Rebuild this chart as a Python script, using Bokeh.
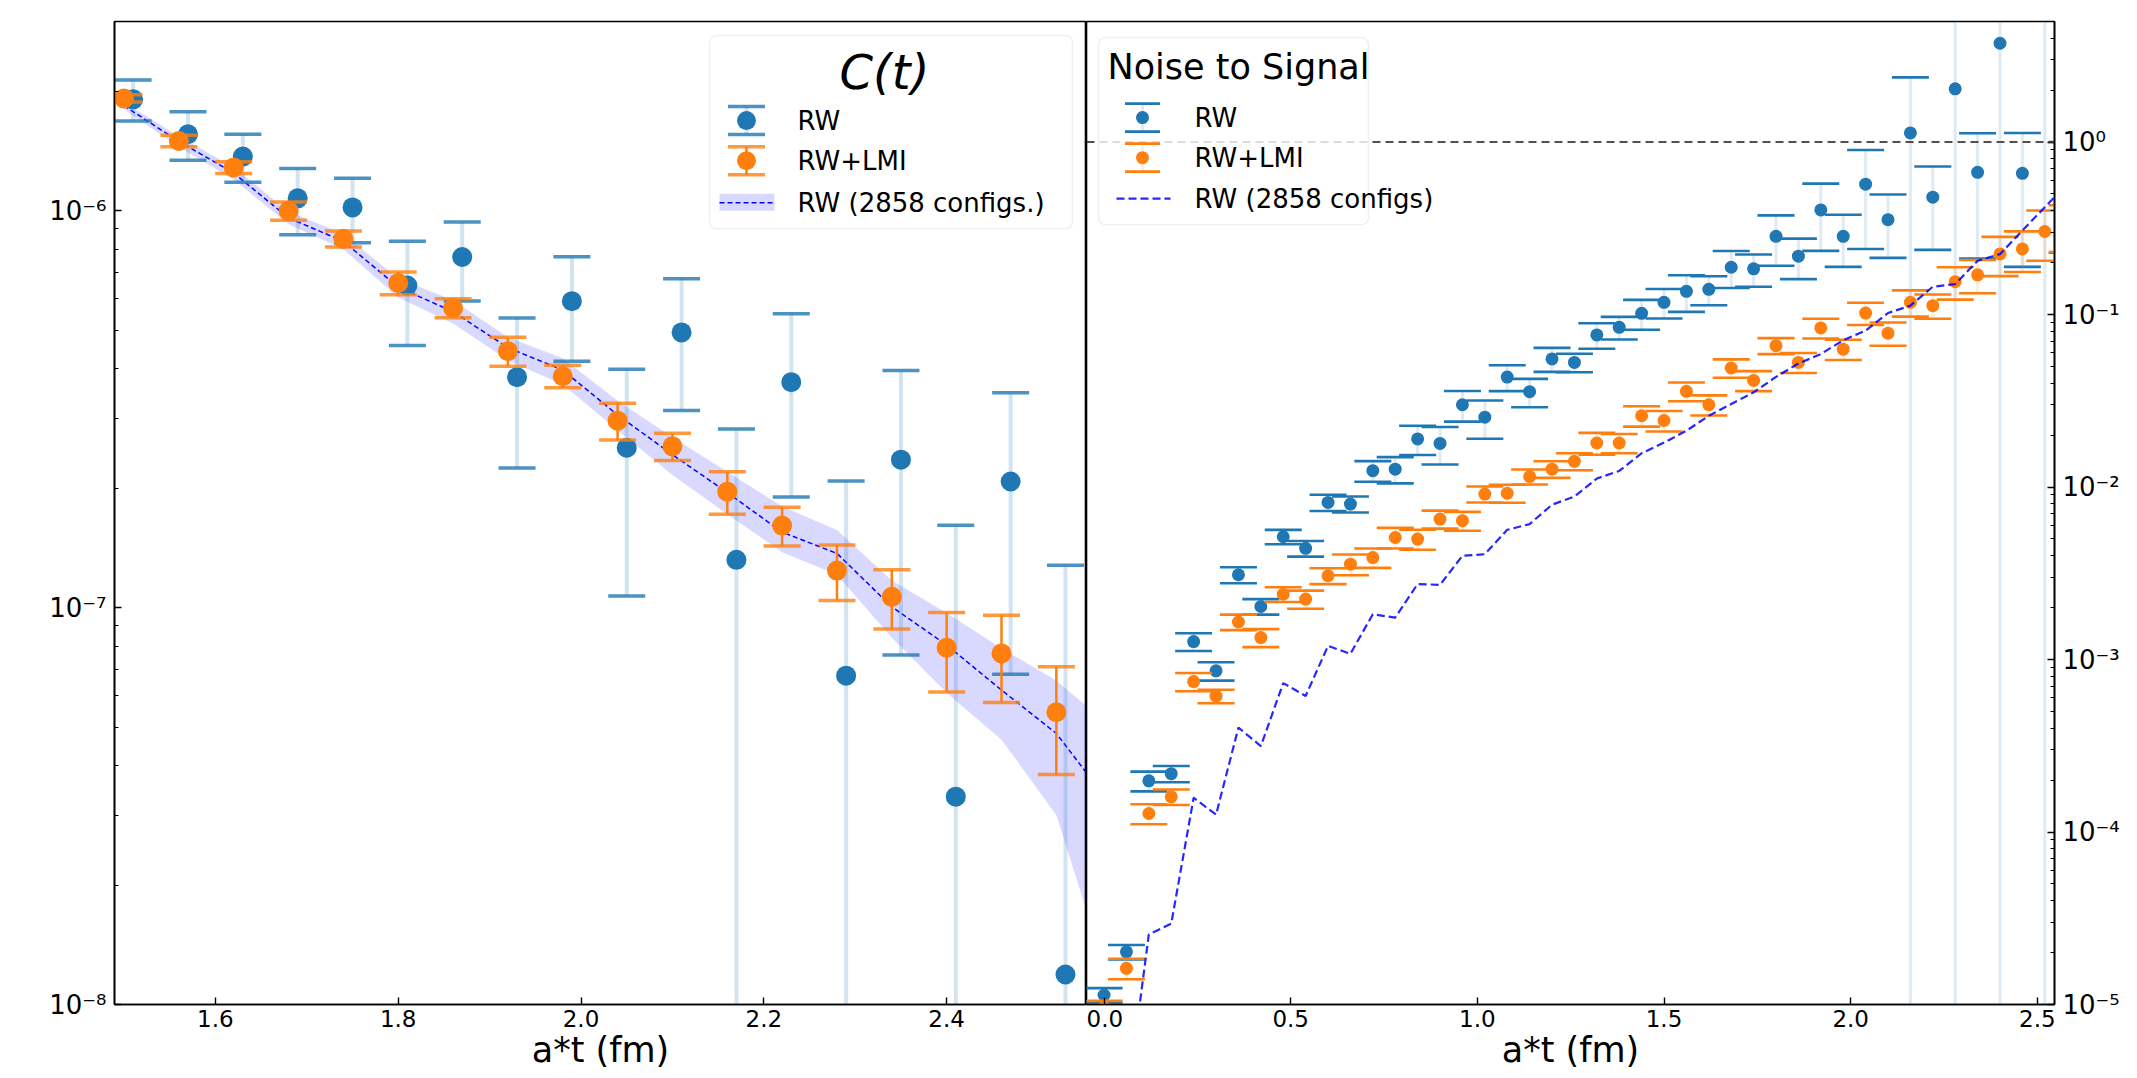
import numpy as np
from bokeh.plotting import figure
from bokeh.layouts import row
from bokeh.models import (Range1d, FixedTicker, CustomJSTickFormatter, PrintfTickFormatter,
                          BoxAnnotation, Label, Span)
from bokeh.embed import file_html
from bokeh.resources import INLINE

# ---------------- data: left panel, C(t) ----------------
t_left = [1.50, 1.56, 1.62, 1.68, 1.74, 1.80, 1.86, 1.92, 1.98, 2.04, 2.10, 2.16, 2.22, 2.28,
          2.34, 2.40, 2.46, 2.52]
c_rw = [1.91e-6, 1.56e-6, 1.37e-6, 1.075e-6, 1.02e-6, 6.48e-7, 7.65e-7, 3.81e-7, 5.92e-7,
        2.53e-7, 4.94e-7, 1.32e-7, 3.70e-7, 6.74e-8, 2.36e-7, 3.34e-8, 2.08e-7, 1.19e-8]
c_rw_err = [2.25e-7, 2.18e-7, 1.9e-7, 2.04e-7, 1.89e-7, 1.9e-7, 1.72e-7, 1.56e-7, 1.74e-7,
            1.46e-7, 1.8e-7, 1.5e-7, 1.8e-7, 1.41e-7, 1.6e-7, 1.28e-7, 1.4e-7, 1.16e-7]
c_lmi = [1.92e-6, 1.50e-6, 1.286e-6, 1.0e-6, 8.5e-7, 6.58e-7, 5.69e-7, 4.43e-7, 3.83e-7,
         2.96e-7, 2.55e-7, 1.96e-7, 1.61e-7, 1.24e-7, 1.065e-7, 7.93e-8, 7.67e-8, 5.45e-8]
c_lmi_err = [4e-8, 5e-8, 4.4e-8, 5.3e-8, 3.9e-8, 4.35e-8, 3.1e-8, 3.7e-8, 2.5e-8,
             3.15e-8, 2.0e-8, 2.4e-8, 1.8e-8, 1.98e-8, 1.81e-8, 1.8e-8, 1.9e-8, 1.65e-8]
t_band = [1.50, 1.56, 1.62, 1.68, 1.74, 1.80, 1.86, 1.92, 1.98, 2.04, 2.10, 2.16, 2.22, 2.28,
          2.34, 2.40, 2.46, 2.52, 2.58]
c_2858 = [1.84e-6, 1.496e-6, 1.245e-6, 9.6e-7, 8.38e-7, 6.42e-7, 5.57e-7, 4.52e-7, 3.97e-7,
          3.06e-7, 2.43e-7, 1.95e-7, 1.55e-7, 1.37e-7, 1.005e-7, 8.05e-8, 6.2e-8, 4.82e-8, 3.18e-8]
c_2858_lo = [1.80e-6, 1.45e-6, 1.20e-6, 9.25e-7, 8.0e-7, 6.05e-7, 5.2e-7, 4.2e-7, 3.65e-7,
             2.8e-7, 2.16e-7, 1.72e-7, 1.38e-7, 1.21e-7, 8.4e-8, 6.1e-8, 4.65e-8, 3.0e-8, 1.1e-8]
c_2858_hi = [1.88e-6, 1.54e-6, 1.29e-6, 9.95e-7, 8.75e-7, 6.75e-7, 5.95e-7, 4.8e-7, 4.25e-7,
             3.32e-7, 2.69e-7, 2.2e-7, 1.80e-7, 1.57e-7, 1.17e-7, 9.7e-8, 7.9e-8, 6.55e-8, 5.0e-8]

# ---------------- data: right panel, noise to signal ----------------
t_right = [0.00, 0.06, 0.12, 0.18, 0.24, 0.30, 0.36, 0.42, 0.48, 0.54, 0.60, 0.66, 0.72, 0.78,
           0.84, 0.90, 0.96, 1.02, 1.08, 1.14, 1.20, 1.26, 1.32, 1.38, 1.44, 1.50, 1.56, 1.62,
           1.68, 1.74, 1.80, 1.86, 1.92, 1.98, 2.04, 2.10, 2.16, 2.22, 2.28, 2.34, 2.40, 2.46,
           2.52, 2.58]
ns_rw = [1.135e-5, 2.02e-5, 1.98e-4, 2.18e-4, 1.27e-3, 8.6e-4, 3.1e-3, 2.03e-3, 5.15e-3, 4.41e-3,
         8.14e-3, 7.97e-3, 1.244e-2, 1.27e-2, 1.9e-2, 1.79e-2, 3.0e-2, 2.54e-2, 4.34e-2, 3.57e-2,
         5.53e-2, 5.28e-2, 7.62e-2, 8.43e-2, 0.1017, 0.1177, 0.1363, 0.140, 0.188, 0.184,
         0.284, 0.218, 0.404, 0.284, 0.57, 0.355, 1.13, 0.479, 2.035, 0.668,
         3.74, 0.659, 7.0, 0.614]
ns_rw_err = [1.1e-6, 1.95e-6, 2.6e-5, 2.35e-5, 1.5e-4, 1.05e-4, 3.3e-4, 2.1e-4, 4.95e-4, 4.6e-4,
             8.75e-4, 8.5e-4, 1.7e-3, 2.2e-3, 3.65e-3, 4.4e-3, 6.05e-3, 6.35e-3, 7.4e-3, 6.7e-3,
             8.75e-3, 6.5e-3, 1.29e-2, 1.26e-2, 2.0e-2, 2.29e-2, 3.27e-2, 2.67e-2, 4.56e-2, 3.9e-2,
             9.2e-2, 5.75e-2, 0.17, 0.095, 0.33, 0.142, 1.24, 0.242, 3.5, 0.457,
             4.5, 0.47, 9.0, 0.386]
ns_lmi = [9.6e-6, 1.62e-5, 1.28e-4, 1.6e-4, 7.45e-4, 6.13e-4, 1.65e-3, 1.34e-3, 2.39e-3, 2.24e-3,
          3.06e-3, 3.57e-3, 3.9e-3, 5.1e-3, 4.99e-3, 6.52e-3, 6.38e-3, 9.1e-3, 9.2e-3, 1.15e-2,
          1.27e-2, 1.41e-2, 1.8e-2, 1.8e-2, 2.59e-2, 2.43e-2, 3.59e-2, 3.0e-2, 4.9e-2, 4.15e-2,
          6.6e-2, 5.28e-2, 8.36e-2, 6.3e-2, 0.102, 0.078, 0.1177, 0.1126, 0.155, 0.170,
          0.2246, 0.240, 0.303, 0.33]
ns_lmi_err = [0.9e-6, 2.2e-6, 1.7e-5, 1.65e-5, 9e-5, 5.5e-5, 1.7e-4, 1.6e-4, 2.35e-4, 2.7e-4,
              3.25e-4, 4.9e-4, 5e-4, 7e-4, 6.6e-4, 7.8e-4, 8e-4, 9.7e-4, 1.1e-3, 1.15e-3,
              1.4e-3, 1.6e-3, 2.6e-3, 2.3e-3, 3.5e-3, 3.3e-3, 4.5e-3, 4e-3, 6e-3, 5.5e-3,
              7e-3, 7e-3, 1.1e-2, 8.5e-3, 0.015, 0.012, 0.0204, 0.018, 0.033, 0.037,
              0.0575, 0.0635, 0.098, 0.1]
ns_2858 = [1.0e-6, 2.6e-6, 2.55e-5, 2.94e-5, 1.58e-4, 1.26e-4, 4.03e-4, 3.15e-4, 7.3e-4, 6.15e-4,
           1.2e-3, 1.08e-3, 1.83e-3, 1.75e-3, 2.74e-3, 2.71e-3, 3.99e-3, 4.08e-3, 5.65e-3, 6.1e-3,
           7.9e-3, 8.8e-3, 1.12e-2, 1.24e-2, 1.57e-2, 1.81e-2, 2.12e-2, 2.59e-2, 3.03e-2, 3.54e-2,
           4.35e-2, 5.2e-2, 5.9e-2, 7.1e-2, 8.07e-2, 0.102, 0.1127, 0.145, 0.150, 0.205,
           0.224, 0.307, 0.419, 0.57]
ns_threshold = 1.0

# ---------------- ticks / labels ----------------
x_ticks_left = [1.6, 1.8, 2.0, 2.2, 2.4, 2.6]
x_ticks_right = [0.0, 0.5, 1.0, 1.5, 2.0, 2.5]
y_decades_left = [1e-8, 1e-7, 1e-6]
y_decades_right = [1e-5, 1e-4, 1e-3, 1e-2, 1e-1, 1e0]
x_label = "a*t (fm)"
legend_left_title = "C(t)"
legend_right_title = "Noise to Signal"
labels_left = ["RW", "RW+LMI", "RW (2858 configs.)"]
labels_right = ["RW", "RW+LMI", "RW (2858 configs)"]

# ---------------- style / layout ----------------
BLUE = "#1f77b4"
ORANGE = "#ff7f0e"
FONT = "DejaVu Sans"
XR_L = (1.4896, 2.553)
YR_L = (1e-8, 3.0e-6)
XR_R = (-0.047, 2.546)
YR_R = (1e-5, 5.0)
# expected frame positions on the page (px): left, right, top, bottom
FRAME_L = (114, 1086, 21, 1003)
FRAME_R = (1086, 2054, 21, 1003)
H = 1072

SUP = {"-": "\u207b", "0": "\u2070", "1": "\u00b9", "2": "\u00b2", "3": "\u00b3",
       "4": "\u2074", "5": "\u2075", "6": "\u2076", "7": "\u2077", "8": "\u2078", "9": "\u2079"}
sup_js = "{" + ",".join('"%s":"%s"' % (k, v) for k, v in SUP.items()) + "}"
log_fmt = CustomJSTickFormatter(code="""
const sup = %s;
const e = Math.round(Math.log10(tick));
return "10" + String(e).split("").map(c => sup[c]).join("");
""" % sup_js)


def minor_list(decades, top):
    out = []
    for d in decades:
        for m in range(2, 10):
            if m * d <= top:
                out.append(m * d)
    return out


def style(p):
    p.xgrid.visible = False
    p.ygrid.visible = False
    p.outline_line_color = "black"
    p.outline_line_width = 1.6
    p.background_fill_color = "white"
    p.border_fill_color = "white"
    for ax in list(p.xaxis) + list(p.yaxis):
        ax.major_tick_in = 7
        ax.major_tick_out = 0
        ax.minor_tick_in = 4
        ax.minor_tick_out = 0
        ax.major_tick_line_color = "black"
        ax.major_tick_line_width = 1.4
        ax.minor_tick_line_color = "black"
        ax.minor_tick_line_width = 1.1
        ax.axis_line_color = "black"
        ax.axis_line_width = 1.6
        ax.major_label_text_font = FONT
        ax.major_label_text_color = "black"
        ax.axis_label_text_font = FONT
        ax.axis_label_text_font_size = "35px"
        ax.axis_label_text_font_style = "normal"
        ax.axis_label_text_color = "black"
    for ax in p.xaxis:
        ax.minor_tick_line_color = None
        ax.major_label_text_font_size = "23px"
        ax.major_label_standoff = 5
        ax.axis_label_standoff = 0
        ax.axis_label = x_label
        ax.formatter = PrintfTickFormatter(format="%.1f")
    for ax in p.yaxis:
        ax.major_label_text_font_size = "26px"
        ax.major_label_standoff = 8
        ax.formatter = log_fmt


def errorbars(p, x, y, err, color, size, cap, line_alpha, line_w, cap_alpha, cap_w):
    x = np.asarray(x, float)
    y = np.asarray(y, float)
    err = np.asarray(err, float)
    lo = y - err
    hi = y + err
    pos = lo > 0
    lo_line = np.where(pos, lo, 1e-30)
    p.segment(x0=x, y0=lo_line, x1=x, y1=hi, line_color=color, line_alpha=line_alpha,
              line_width=line_w)
    p.scatter(x=x, y=hi, marker="dash", size=cap, line_color=color, line_alpha=cap_alpha,
              line_width=cap_w)
    p.scatter(x=x[pos], y=lo[pos], marker="dash", size=cap, line_color=color,
              line_alpha=cap_alpha, line_width=cap_w)
    p.scatter(x=x, y=y, marker="circle", size=size, fill_color=color, line_color=None)


def to_data(px, py, xr, yr, frame):
    fl, fr, ft, fb = frame
    x = xr[0] + (px - fl) / (fr - fl) * (xr[1] - xr[0])
    l0, l1 = np.log10(yr[0]), np.log10(yr[1])
    y = 10 ** (l1 - (py - ft) / (fb - ft) * (l1 - l0))
    return x, y


def legend_box(p, xr, yr, frame, l, r, t, b):
    x0, y0 = to_data(l, b, xr, yr, frame)
    x1, y1 = to_data(r, t, xr, yr, frame)
    p.add_layout(BoxAnnotation(left=x0, right=x1, bottom=y0, top=y1, fill_color="white",
                               fill_alpha=0.8, line_color="#cccccc", line_width=1.5,
                               border_radius=7))


def legend_text(p, xr, yr, frame, px, py, text, size, align="left", italic=False):
    x, y = to_data(px, py, xr, yr, frame)
    p.add_layout(Label(x=x, y=y, text=text, text_font=FONT, text_font_size=size,
                       text_align=align, text_baseline="middle", text_color="black",
                       text_font_style="italic" if italic else "normal"))


def legend_errbar_icon(p, xr, yr, frame, px, py, color, size, cap, line_alpha, line_w,
                       cap_alpha, cap_w):
    xc, yc = to_data(px, py, xr, yr, frame)
    _, yt = to_data(px, py - 14, xr, yr, frame)
    _, yb = to_data(px, py + 14, xr, yr, frame)
    p.segment(x0=[xc], y0=[yb], x1=[xc], y1=[yt], line_color=color, line_alpha=line_alpha,
              line_width=line_w, level="overlay")
    p.scatter(x=[xc, xc], y=[yt, yb], marker="dash", size=cap, line_color=color,
              line_alpha=cap_alpha, line_width=cap_w, level="overlay")
    p.scatter(x=[xc], y=[yc], marker="circle", size=size, fill_color=color, line_color=None,
              level="overlay")


# ======================= left panel =======================
p1 = figure(width=FRAME_L[1], height=H, x_range=Range1d(*XR_L), y_range=Range1d(*YR_L),
            y_axis_type="log", output_backend="svg", toolbar_location=None,
            min_border_left=FRAME_L[0], min_border_right=0, min_border_top=FRAME_L[2],
            min_border_bottom=0)
style(p1)
p1.xaxis.ticker = FixedTicker(ticks=x_ticks_left)
p1.yaxis.ticker = FixedTicker(ticks=y_decades_left, minor_ticks=minor_list(y_decades_left, YR_L[1]))

p1.varea(x=t_band, y1=c_2858_lo, y2=c_2858_hi, fill_color="blue", fill_alpha=0.15)
p1.line(t_band, c_2858, line_color="blue", line_width=1.5, line_dash="5 3")
errorbars(p1, np.asarray(t_left) + 0.01, c_rw, c_rw_err, BLUE, 20, 37, 0.2, 4, 0.8, 3.5)
errorbars(p1, t_left, c_lmi, c_lmi_err, ORANGE, 20, 37, 1.0, 2.5, 0.8, 3.5)

legend_box(p1, XR_L, YR_L, FRAME_L, 709, 1072, 35, 228)
legend_text(p1, XR_L, YR_L, FRAME_L, 884, 71, legend_left_title, "48px", "center", True)
legend_errbar_icon(p1, XR_L, YR_L, FRAME_L, 746, 120, BLUE, 19, 37, 0.2, 4, 0.8, 3.5)
legend_text(p1, XR_L, YR_L, FRAME_L, 797, 120, labels_left[0], "26px")
legend_errbar_icon(p1, XR_L, YR_L, FRAME_L, 746, 160, ORANGE, 19, 37, 1.0, 2.5, 0.8, 3.5)
legend_text(p1, XR_L, YR_L, FRAME_L, 797, 160, labels_left[1], "26px")
bx0, by0 = to_data(719, 210, XR_L, YR_L, FRAME_L)
bx1, by1 = to_data(774, 193, XR_L, YR_L, FRAME_L)
_, bym = to_data(719, 202, XR_L, YR_L, FRAME_L)
p1.varea(x=[bx0, bx1], y1=[by0, by0], y2=[by1, by1], fill_color="blue", fill_alpha=0.15,
         level="overlay")
p1.line([bx0, bx1], [bym, bym], line_color="blue", line_width=1.5, line_dash="5 3",
        level="overlay")
legend_text(p1, XR_L, YR_L, FRAME_L, 797, 202, labels_left[2], "26px")

# ======================= right panel =======================
p2 = figure(width=2137 - FRAME_R[0], height=H, x_range=Range1d(*XR_R), y_range=Range1d(*YR_R),
            y_axis_type="log", y_axis_location="right", output_backend="svg",
            toolbar_location=None, min_border_left=0, min_border_right=2137 - FRAME_R[1],
            min_border_top=FRAME_R[2], min_border_bottom=0)
style(p2)
p2.xaxis.ticker = FixedTicker(ticks=x_ticks_right)
p2.yaxis.ticker = FixedTicker(ticks=y_decades_right,
                              minor_ticks=minor_list(y_decades_right, YR_R[1]))

errorbars(p2, t_right, ns_rw, ns_rw_err, BLUE, 13, 37, 0.15, 3, 1.0, 2.6)
errorbars(p2, t_right, ns_lmi, ns_lmi_err, ORANGE, 13, 37, 0.15, 3, 1.0, 2.6)
p2.line(t_right, ns_2858, line_color="blue", line_alpha=0.85, line_width=2.2, line_dash="8 4")
p2.add_layout(Span(location=ns_threshold, dimension="width", line_color="#333333",
                   line_alpha=0.85, line_width=2, line_dash="8 5"))

legend_box(p2, XR_R, YR_R, FRAME_R, 1098, 1368, 37, 224)
legend_text(p2, XR_R, YR_R, FRAME_R, 1238, 66, legend_right_title, "35px", "center")
legend_errbar_icon(p2, XR_R, YR_R, FRAME_R, 1142, 117, BLUE, 13, 35, 0.15, 3, 1.0, 2.6)
legend_text(p2, XR_R, YR_R, FRAME_R, 1194, 117, labels_right[0], "26px")
legend_errbar_icon(p2, XR_R, YR_R, FRAME_R, 1142, 157, ORANGE, 13, 35, 0.15, 3, 1.0, 2.6)
legend_text(p2, XR_R, YR_R, FRAME_R, 1194, 157, labels_right[1], "26px")
lx0, ly0 = to_data(1116, 198, XR_R, YR_R, FRAME_R)
lx1, _ = to_data(1170, 198, XR_R, YR_R, FRAME_R)
p2.line([lx0, lx1], [ly0, ly0], line_color="blue", line_alpha=0.85, line_width=2.2,
        line_dash="8 4", level="overlay")
legend_text(p2, XR_R, YR_R, FRAME_R, 1194, 198, labels_right[2], "26px")

layout = row(p1, p2, spacing=0)
open("out.html", "w").write(file_html(layout, INLINE))
